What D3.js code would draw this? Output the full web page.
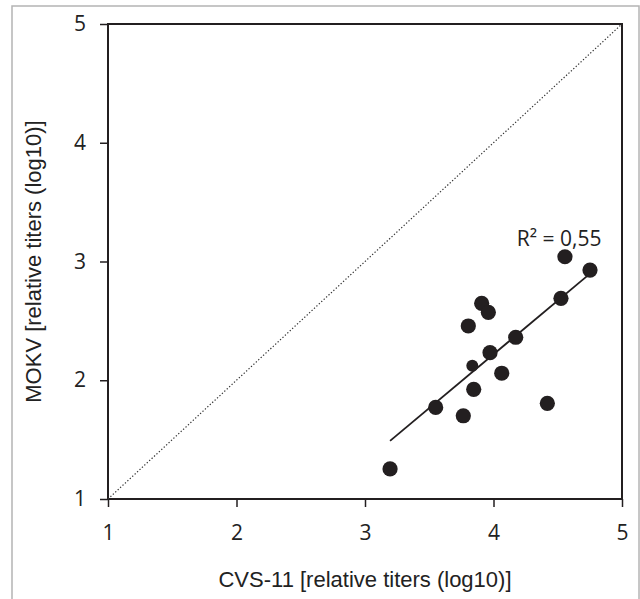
<!DOCTYPE html>
<html>
<head>
<meta charset="utf-8">
<script src="https://cdn.jsdelivr.net/npm/d3@7"></script>
<style>
  html, body { margin: 0; padding: 0; background: #fff; }
  svg { display: block; }
</style>
</head>
<body>
<svg id="chart" width="640" height="599"></svg>
<script>
// CVS-11 (x) vs MOKV (y), relative titers log10
const cvs11 = [4.556, 4.751, 4.525, 3.908, 3.960, 3.804, 4.173, 3.973, 3.835, 4.064, 3.846, 3.550, 4.419, 3.765, 3.195];
const mokv  = [3.040, 2.928, 2.690, 2.648, 2.572, 2.457, 2.362, 2.232, 2.123, 2.059, 1.924, 1.771, 1.806, 1.701, 1.253];
const smallPoint = [false, false, false, false, false, false, false, false, true, false, false, false, false, false, false];
const ticks = [1, 2, 3, 4, 5];
const r2Label = "R² = 0,55";
const xTitle = "CVS-11 [relative titers (log10)]";
const yTitle = "MOKV [relative titers (log10)]";

const width = 640, height = 599;
const margin = { top: 24, left: 108, right: 18, bottom: 100 };
const innerwidth = width - margin.left - margin.right;
const innerheight = height - margin.top - margin.bottom;
const ink = '#231f20';

const svg = d3.select('#chart');

// outer grey frame
svg.append('rect')
    .attr('x', 12).attr('y', 6)
    .attr('width', 627).attr('height', 620)
    .attr('fill', 'none')
    .attr('stroke', '#b4b4b4')
    .attr('stroke-width', 1.5);

const xScale = d3.scaleLinear().domain([1, 5]).range([0, innerwidth]);
const yScale = d3.scaleLinear().domain([1, 5]).range([innerheight, 0]);

const canvas = svg.append('g')
    .attr('transform', `translate(${margin.left},${margin.top})`);

// box
canvas.append('rect')
    .attr('width', innerwidth).attr('height', innerheight)
    .attr('fill', 'none')
    .attr('stroke', ink)
    .attr('stroke-width', 2);

// axes
const xAxis = d3.axisBottom(xScale).tickValues(ticks).tickSize(8).tickPadding(18).tickFormat(d3.format('d'));
const yAxis = d3.axisLeft(yScale).tickValues(ticks).tickSize(8).tickPadding(14).tickFormat(d3.format('d'));

const xg = canvas.append('g')
    .attr('transform', `translate(0,${innerheight})`)
    .call(xAxis);
const yg = canvas.append('g').call(yAxis);

[xg, yg].forEach(g => {
    g.select('.domain').remove();
    g.selectAll('.tick line').attr('stroke', ink).attr('stroke-width', 1.5);
    g.selectAll('.tick text')
        .attr('fill', '#222')
        .attr('font-family', '"Open Sans", sans-serif')
        .attr('font-size', 21);
});

// 1:1 dotted line
canvas.append('line')
    .attr('x1', xScale(1)).attr('y1', yScale(1))
    .attr('x2', xScale(5)).attr('y2', yScale(5))
    .attr('stroke', '#333')
    .attr('stroke-width', 1.2)
    .attr('stroke-dasharray', '1.3,2');

// linear regression
const n = cvs11.length;
const mx = d3.mean(cvs11), my = d3.mean(mokv);
let sxy = 0, sxx = 0;
for (let i = 0; i < n; i++) {
    sxy += (cvs11[i] - mx) * (mokv[i] - my);
    sxx += (cvs11[i] - mx) * (cvs11[i] - mx);
}
const slope = sxy / sxx;
const icpt = my - slope * mx;
const [xmin, xmax] = d3.extent(cvs11);

canvas.append('line')
    .attr('x1', xScale(xmin)).attr('y1', yScale(icpt + slope * xmin))
    .attr('x2', xScale(xmax)).attr('y2', yScale(icpt + slope * xmax))
    .attr('stroke', ink)
    .attr('stroke-width', 1.8);

// points
canvas.selectAll('.pt')
    .data(cvs11)
    .enter()
    .append('circle')
    .attr('class', 'pt')
    .attr('cx', d => xScale(d))
    .attr('cy', (d, i) => yScale(mokv[i]))
    .attr('r', (d, i) => smallPoint[i] ? 6 : 7.6)
    .attr('fill', ink);

// R² label
canvas.append('text')
    .attr('x', xScale(4.84))
    .attr('y', yScale(3.13))
    .attr('text-anchor', 'end')
    .attr('font-family', '"Open Sans", sans-serif')
    .attr('font-size', 21)
    .attr('fill', '#222')
    .text(r2Label);

// axis titles
canvas.append('text')
    .attr('x', innerwidth / 2)
    .attr('y', innerheight + 88)
    .attr('text-anchor', 'middle')
    .attr('font-family', '"Liberation Sans", Arial, sans-serif')
    .attr('font-size', 22)
    .attr('fill', '#222')
    .text(xTitle);

canvas.append('text')
    .attr('transform', `translate(${41 - margin.left},${innerheight / 2}) rotate(-90)`)
    .attr('text-anchor', 'middle')
    .attr('font-family', '"Liberation Sans", Arial, sans-serif')
    .attr('font-size', 22)
    .attr('fill', '#222')
    .text(yTitle);
</script>
</body>
</html>
